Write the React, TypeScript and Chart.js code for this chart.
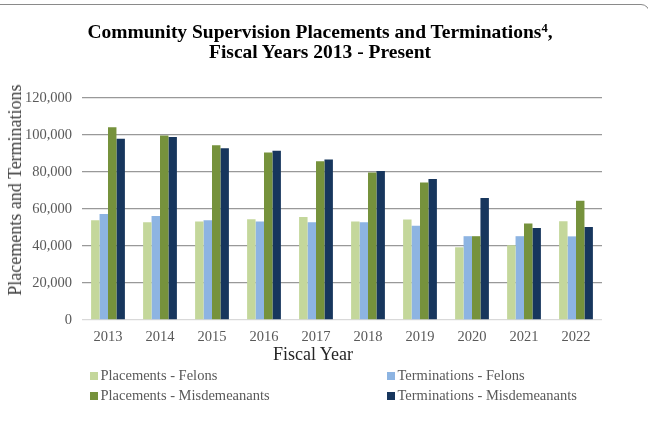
import React, { useEffect, useRef } from "react";
import { Chart, registerables } from "chart.js";

Chart.register(...registerables);

const years = ["2013", "2014", "2015", "2016", "2017", "2018", "2019", "2020", "2021", "2022"];
const placementsFelons = [53900, 52800, 53300, 54400, 55700, 53200, 54300, 39300, 40400, 53400];
const terminationsFelons = [57300, 56200, 53900, 53200, 52800, 52800, 51000, 45300, 45300, 45200];
const placementsMisdemeanants = [104200, 99700, 94400, 90600, 85800, 79700, 74300, 45300, 52100, 64500];
const terminationsMisdemeanants = [98000, 98900, 92800, 91500, 86700, 80500, 76200, 66000, 49700, 50300];
const yTicks = [0, 20000, 40000, 60000, 80000, 100000, 120000];

const seriesNames = [
  "Placements - Felons",
  "Terminations - Felons",
  "Placements - Misdemeanants",
  "Terminations - Misdemeanants",
];
const seriesColors = ["#c4d79b", "#8db4e2", "#76923c", "#17365d"];

const FONT = "'Liberation Serif', 'Times New Roman', Times, serif";

export default function App() {
  const ref = useRef<HTMLCanvasElement | null>(null);

  useEffect(() => {
    if (!ref.current) return;
    const seriesData = [placementsFelons, terminationsFelons, placementsMisdemeanants, terminationsMisdemeanants];
    const chart = new Chart(ref.current, {
      type: "bar",
      data: {
        labels: years,
        datasets: seriesNames.map((name, i) => ({
          label: name,
          data: seriesData[i],
          backgroundColor: seriesColors[i],
          borderWidth: 0,
          categoryPercentage: 0.65,
          barPercentage: 1,
        })),
      },
      options: {
        animation: false,
        responsive: false,
        layout: { padding: { top: 98, right: 46, bottom: 91, left: 0 } },
        plugins: {
          legend: { display: false },
          title: { display: false },
          tooltip: { enabled: false },
        },
        scales: {
          x: {
            grid: { display: false, drawTicks: false },
            border: { display: false },
            ticks: {
              color: "#595959",
              font: { family: FONT, size: 14.5 },
              padding: 8,
            },
            afterFit: (s: any) => {
              s.height = 30;
            },
          },
          y: {
            min: 0,
            max: 120000,
            afterBuildTicks: (s: any) => {
              s.ticks = yTicks.map((v) => ({ value: v }));
            },
            grid: {
              drawTicks: false,
              color: (ctx: any) => (ctx.tick && ctx.tick.value === 0 ? "#d9d9d9" : "#999999"),
              lineWidth: 1.3,
            },
            border: { display: false },
            ticks: {
              color: "#595959",
              font: { family: FONT, size: 14.5 },
              padding: 10,
              callback: (v: any) => Number(v).toLocaleString("en-US"),
            },
            afterFit: (s: any) => {
              s.width = 82;
            },
          },
        },
      },
    });
    return () => chart.destroy();
  }, []);

  const legendPos = [
    { x: 90, y: 376 },
    { x: 387, y: 376 },
    { x: 90, y: 396 },
    { x: 387, y: 396 },
  ];

  return (
    <div
      style={{
        position: "fixed",
        left: 0,
        top: 0,
        width: 648,
        height: 441,
        overflow: "hidden",
        background: "#ffffff",
        fontFamily: FONT,
      }}
    >
      <div
        style={{
          position: "absolute",
          left: -30,
          top: 4,
          width: 680,
          height: 700,
          border: "1.5px solid #8a8a8a",
          borderRadius: 9,
          boxSizing: "border-box",
        }}
      />
      <canvas ref={ref} width={648} height={441} style={{ position: "absolute", left: 0, top: 0, width: 648, height: 441 }} />
      <div
        style={{
          position: "absolute",
          left: 0,
          top: 22,
          width: 640,
          textAlign: "center",
          fontWeight: "bold",
          fontSize: 19.5,
          lineHeight: "20px",
          color: "#000000",
        }}
      >
        <div>
          Community Supervision Placements and Terminations
          <sup style={{ fontSize: 12.5, lineHeight: 0, verticalAlign: "6px" }}>4</sup>,
        </div>
        <div>Fiscal Years 2013 - Present</div>
      </div>
      <div
        style={{
          position: "absolute",
          left: 15,
          top: 190,
          transform: "translate(-50%, -50%) rotate(-90deg)",
          whiteSpace: "nowrap",
          fontSize: 18,
          lineHeight: "20px",
          color: "#404040",
        }}
      >
        Placements and Terminations
      </div>
      <div
        style={{
          position: "absolute",
          left: 313,
          top: 354,
          transform: "translate(-50%, -50%)",
          whiteSpace: "nowrap",
          fontSize: 18,
          lineHeight: "20px",
          color: "#262626",
        }}
      >
        Fiscal Year
      </div>
      {seriesNames.map((name, i) => (
        <div key={name}>
          <div
            style={{
              position: "absolute",
              left: legendPos[i].x,
              top: legendPos[i].y - 4,
              width: 8,
              height: 8,
              background: seriesColors[i],
            }}
          />
          <div
            style={{
              position: "absolute",
              left: legendPos[i].x + 10.5,
              top: legendPos[i].y - 11,
              height: 20,
              lineHeight: "20px",
              fontSize: 14.5,
              color: "#595959",
              whiteSpace: "nowrap",
            }}
          >
            {name}
          </div>
        </div>
      ))}
    </div>
  );
}
